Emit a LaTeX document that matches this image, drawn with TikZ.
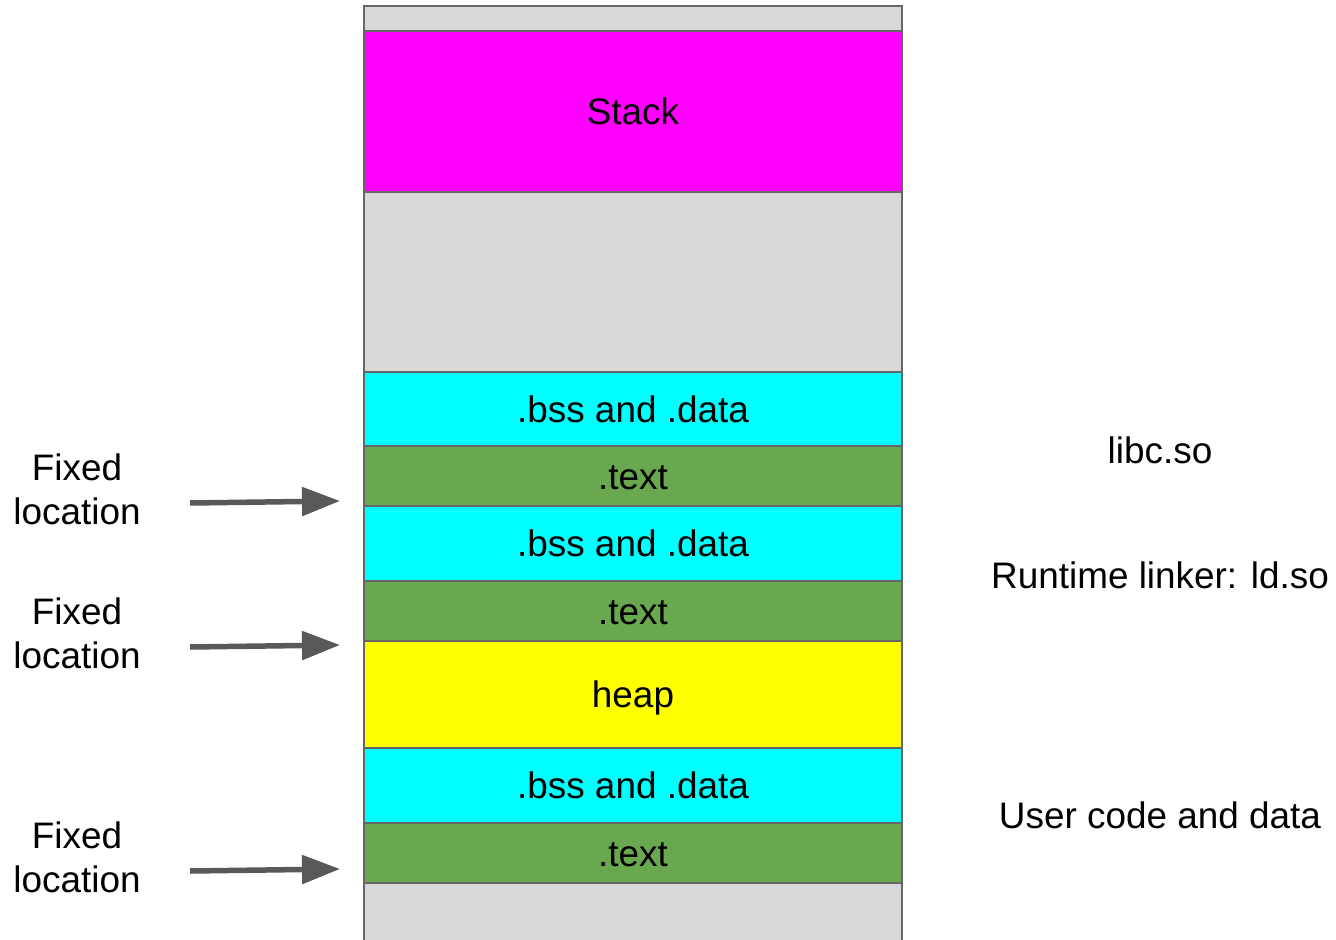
\documentclass[tikz,border=0pt]{standalone}
\usepackage{fontspec}
\setmainfont{Liberation Sans}
\usetikzlibrary{positioning,arrows.meta}

\definecolor{seggray}{HTML}{D9D9D9}
\definecolor{segline}{HTML}{666666}
\definecolor{stackpink}{HTML}{FF00FF}
\definecolor{datacyan}{HTML}{00FFFF}
\definecolor{textgreen}{HTML}{6AA84F}
\definecolor{heapyellow}{HTML}{FFFF00}
\definecolor{arrowgray}{HTML}{595959}

\begin{document}
\begin{tikzpicture}[x=0.02cm,y=-0.02cm,node distance=0pt,
	seg/.style={draw=segline,line width=0.04cm,minimum width=10.76cm,inner sep=0pt,outer sep=0pt,
		text height=0.66cm,text depth=0.12cm,font=\fontsize{21}{25}\selectfont},
	gapseg/.style={seg,fill=seggray,text height=0pt,text depth=0pt},
	lbl/.style={align=center,inner sep=0pt,font=\fontsize{21}{25}\selectfont},
	fixarrow/.style={draw=arrowgray,line width=0.11cm,-{Triangle[length=0.76cm,width=0.56cm]}}]
	\clip (0,0) rectangle (1336,940);
	\fill[white] (0,0) rectangle (1336,940);
	
	% memory column, top to bottom
	\node[gapseg,minimum height=0.5cm,anchor=north] (gaptop) at (633,6) {};
	\node[seg,fill=stackpink,minimum height=3.22cm,below=of gaptop] (stack) {Stack};
	\node[gapseg,minimum height=3.6cm,below=of stack] (gapmid) {};
	\node[seg,fill=datacyan,minimum height=1.48cm,below=of gapmid] (libcdata) {.bss and .data};
	\node[seg,fill=textgreen,minimum height=1.2cm,below=of libcdata] (libctext) {.text};
	\node[seg,fill=datacyan,minimum height=1.5cm,below=of libctext] (lddata) {.bss and .data};
	\node[seg,fill=textgreen,minimum height=1.2cm,below=of lddata] (ldtext) {.text};
	\node[seg,fill=heapyellow,minimum height=2.14cm,below=of ldtext] (heap) {heap};
	\node[seg,fill=datacyan,minimum height=1.5cm,below=of heap] (userdata) {.bss and .data};
	\node[seg,fill=textgreen,minimum height=1.2cm,below=of userdata] (usertext) {.text};
	\node[gapseg,minimum height=1.4cm,below=of usertext] (gapbot) {};
	
	% names on the right
	\node[lbl,anchor=base] (libc) at (1160,463) {libc.so};
	\node[lbl,anchor=base] (ldso) at (1160,588) {Runtime linker: ld.so};
	\node[lbl,anchor=base] (user) at (1160,828) {User code and data};
	
	% fixed locations on the left
	\node[lbl] (fix1) at (77,489) {Fixed\\location};
	\node[lbl] (fix2) at (77,633) {Fixed\\location};
	\node[lbl] (fix3) at (77,857) {Fixed\\location};
	
	\coordinate (fix1tail) at (190,503);
	\coordinate (fix1tip) at (340,501);
	\coordinate (fix2tail) at (190,647);
	\coordinate (fix2tip) at (340,645);
	\coordinate (fix3tail) at (190,871);
	\coordinate (fix3tip) at (340,869);
	
	\draw[fixarrow] (fix1tail) -- (fix1tip);
	\draw[fixarrow] (fix2tail) -- (fix2tip);
	\draw[fixarrow] (fix3tail) -- (fix3tip);
\end{tikzpicture}
\end{document}
